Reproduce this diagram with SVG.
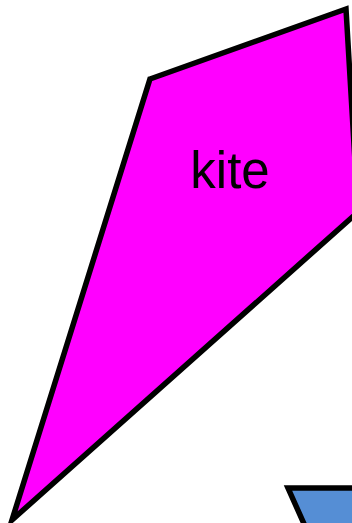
<svg xmlns="http://www.w3.org/2000/svg" width="352" height="523" viewBox="0 0 352 523">
  <style>
    .shape { stroke: #000; stroke-width: 5.5; stroke-linejoin: miter; }
    .label { font-family: "Liberation Sans", Arial, sans-serif; font-size: 51px; fill: #000; text-anchor: middle; }
  </style>
  <rect width="352" height="523" fill="#fff"/>
  <g id="kite">
    <polygon class="shape" fill="#FF00FF" points="150,79 346,9 358,212 12,520"/>
    <text class="label" x="230" y="188">kite</text>
  </g>
  <g id="trapezoid">
    <polygon class="shape" fill="#558ED5" points="288,488 420,488 420,600 338,600"/>
  </g>
  <g id="connectors"></g>
</svg>
